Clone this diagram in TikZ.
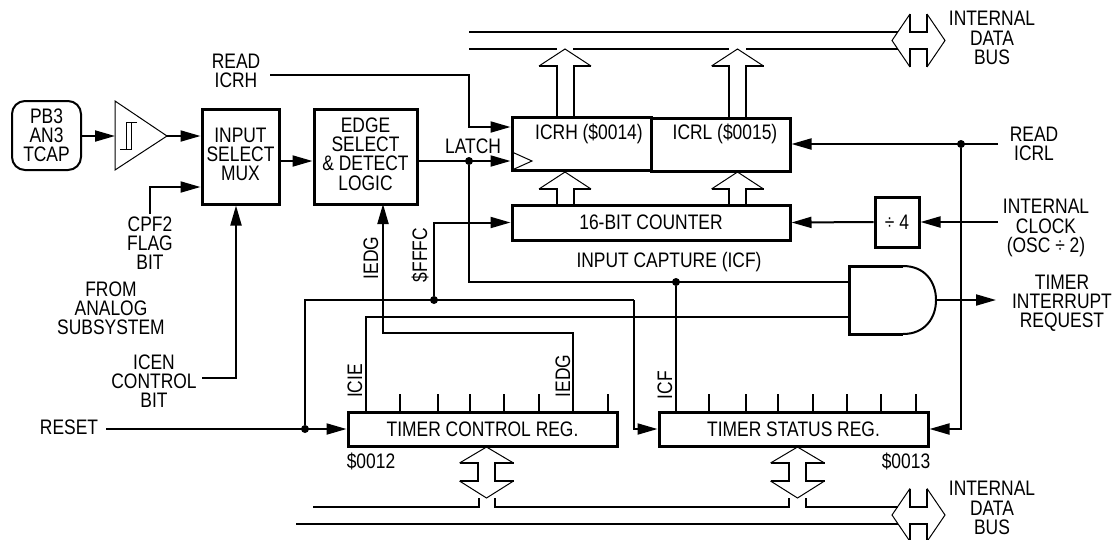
\documentclass[tikz,border=0pt]{standalone}
\usepackage{fontspec}
\setmainfont[FakeStretch=0.83]{Liberation Sans}
\usepackage{tikz}
\usetikzlibrary{arrows.meta,positioning,calc}

\begin{document}
\begin{tikzpicture}[
  x=1pt, y=-1pt,
  wire/.style={line width=2pt},
  arrow/.style={wire, -{Triangle[length=20pt,width=11pt]}},
  thin line/.style={line width=1pt},
  lbl/.style={font=\fontsize{21}{19.2}\selectfont, align=center, inner sep=0pt},
  box/.style={draw, line width=3pt, inner sep=0pt, align=center, font=\fontsize{21}{19.2}\selectfont},
  dot/.style={circle, fill=black, inner sep=0pt, minimum size=8pt}
]
\useasboundingbox (0,0) rectangle (1115,539);

% blocks
\node[draw, wire, rounded corners=13pt, minimum width=69pt, minimum height=69pt, inner sep=0pt, lbl] (pin) at (46.5,135.5) {PB3\\AN3\\TCAP};
\node[box, minimum width=77pt, minimum height=95pt, text depth=5pt] (mux) at (240.5,156.5) {INPUT\\SELECT\\MUX};
\node[box, minimum width=103pt, minimum height=95pt, text depth=5pt] (edge) at (365.5,156.5) {EDGE\\SELECT\\\&~DETECT\\LOGIC};
\node[box, minimum width=139pt, minimum height=53pt] (icrh) at (581.5,143.5) {};
\node[box, minimum width=139pt, minimum height=53pt] (icrl) at (720.5,144.5) {};
\node[box, minimum width=278pt, minimum height=35pt] (counter) at (651,222.5) {16-BIT COUNTER};
\node[box, minimum width=44pt, minimum height=50pt] (div) at (897,222) {÷ 4};
\node[box, minimum width=269pt, minimum height=34pt] (tcr) at (482.5,429) {TIMER CONTROL REG.};
\node[box, minimum width=269pt, minimum height=34pt] (tsr) at (793.5,429) {TIMER STATUS REG.};
\node[lbl] (icrhtxt) at (589,134) {ICRH (\$0014)};
\node[lbl] (icrltxt) at (725,134) {ICRL (\$0015)};

% schmitt input buffer
\coordinate (bufin) at (115,136);
\coordinate (bufout) at (167,136);
\draw[thin line] (bufin |- 0,101) -- (bufin |- 0,170) -- (bufout) -- cycle;
\draw[thin line] (137,122) -- (126,122) -- (126,149);
\draw[thin line] (120,149) -- (131,149) -- (131,122);
\draw[thin line] (512,152) -- (532,161) -- (512,170);

% and gate
\coordinate (andin) at (849,282);
\coordinate (andlow) at (849,317);
\coordinate (andout) at (936,300);
\draw[line width=3pt] (903,266) -- (849,266) -- (849,334) -- (903,334);
\draw[wire] (903,266) .. controls (925,266) and (936,282) .. (andout) .. controls (936,318) and (925,334) .. (903,334);

% junctions
\node[dot] (latch) at (469,161) {};
\node[dot] (icfdot) at (676,282) {};
\node[dot] (rstdot) at (305,429) {};
\node[dot] (rstup) at (434,300) {};
\node[dot] (rdldot) at (961,144) {};

% labels
\node[lbl] (readh) at (236,71) {READ\\ICRH};
\node[lbl] (readl) at (1034,144) {READ\\ICRL};
\node[lbl] (clock) at (1046,228) {INTERNAL\\CLOCK\\(OSC ÷ 2)};
\node[lbl] (latchtxt) at (473,146) {LATCH};
\node[lbl] (cpf) at (150,243) {CPF2\\FLAG\\BIT};
\node[lbl] (analog) at (111,308) {FROM\\ANALOG\\SUBSYSTEM};
\node[lbl] (icen) at (154,381) {ICEN\\CONTROL\\BIT};
\node[lbl] (rst) at (69,427) {RESET};
\node[lbl] (capture) at (669,262) {INPUT CAPTURE (ICF)};
\node[lbl] (irq) at (1062,303) {TIMER\\INTERRUPT\\REQUEST};
\node[lbl] (busa) at (992,38) {INTERNAL\\DATA\\BUS};
\node[lbl] (busb) at (992,508) {INTERNAL\\DATA\\BUS};
\node[lbl] (addra) at (371,461) {\$0012};
\node[lbl] (addrb) at (906,461) {\$0013};
\node[lbl, rotate=90] (iedga) at (371,258) {IEDG};
\node[lbl, rotate=90] (fffc) at (420,255) {\$FFFC};
\node[lbl, rotate=90] (icie) at (355,381) {ICIE};
\node[lbl, rotate=90] (iedgb) at (563,376) {IEDG};
\node[lbl, rotate=90] (icf) at (665,385) {ICF};

% free ends
\coordinate (rdhend) at (270,75);
\coordinate (rdlend) at (998,144);
\coordinate (clkend) at (998,222);
\coordinate (cpfend) at (150,214);
\coordinate (icenend) at (202,378);
\coordinate (rstend) at (106,429);
\coordinate (irqend) at (996,300);

% signals
\draw[arrow] (pin.east |- bufin) -- (bufin);
\draw[arrow] (bufout) -- (bufout -| mux.west);
\draw[arrow] (cpfend) |- (mux.west |- 0,187);
\draw[arrow] (icenend) -| (mux.south -| 236,0);
\draw[arrow] (mux.east |- latch) -- (edge.west |- latch);
\draw[arrow] (edge.east |- latch) -- (icrh.west |- latch);
\draw[arrow] (rdhend) -| (469,127) -- (icrh.west |- 0,127);
\draw[arrow] (rdlend) -- (icrl.east |- rdlend);
\draw[arrow] (clkend) -- (div.east);
\draw[arrow] (div.west) -- (counter.east);
\draw[wire] (latch) |- (andin);
\draw[wire] (icfdot) -- (icfdot |- tsr.north);
\draw[wire] (366,412) |- (andlow);
\draw[arrow] (573,412) |- (383,333) -- (383,204);
\draw[wire] (rstdot) |- (634,300);
\draw[arrow] (634,300) |- (tsr.west);
\draw[arrow] (rstup) |- (counter.west);
\draw[arrow] (rstend) -- (tcr.west);
\draw[arrow] (rdldot) |- (tsr.east);
\draw[arrow] (andout) -- (irqend);

% register bit ticks
\foreach \x in {400,438,470,504,539,608,709,746,778,813,847,881,916} {
  \draw[wire] (\x,394) -- (\x,412);
}

% internal data bus lines
\draw[wire] (469,32) -- (898,32);
\draw[wire] (469,49) -- (557,49) (573,49) -- (729,49) (746,49) -- (898,49);
\draw[wire] (313,507) -- (479,507) -- (479,498) (495,498) -- (495,507) -- (789,507) -- (789,498);
\draw[wire] (806,498) -- (806,507) -- (898,507);
\draw[wire] (296,524) -- (898,524);

% bus arrows into the registers
\foreach \cx/\tipy/\bot in {565/49/117, 737.5/49/118, 565/172/205, 737.5/172/205} {
  \draw[wire] (\cx-8.5,\bot) -- (\cx-8.5,\tipy+17) -- (\cx-26,\tipy+17);
  \draw[thin line] (\cx-26,\tipy+17) -- (\cx,\tipy) -- (\cx+26,\tipy+17);
  \draw[wire] (\cx+26,\tipy+17) -- (\cx+8.5,\tipy+17) -- (\cx+8.5,\bot);
}

% bus arrows to the registers from the lower bus
\foreach \cx in {486.5,797.5} {
  \draw[wire] (\cx-27,463) -- (\cx-8.5,463) -- (\cx-8.5,481) -- (\cx-27,481);
  \draw[wire] (\cx+27,463) -- (\cx+8.5,463) -- (\cx+8.5,481) -- (\cx+27,481);
  \draw[thin line] (\cx-27,463) -- (\cx,447) -- (\cx+27,463);
  \draw[thin line] (\cx-27,481) -- (\cx,498) -- (\cx+27,481);
}

% bus arrows at the right side
\foreach \cy in {40.5,515} {
  \draw[thin line] (910,\cy-26.5) -- (892,\cy) -- (910,\cy+26.5);
  \draw[thin line] (927,\cy-26.5) -- (945,\cy) -- (927,\cy+26.5);
  \draw[wire] (910,\cy-26.5) -- (910,\cy-8.5) -- (927,\cy-8.5) -- (927,\cy-26.5);
  \draw[wire] (910,\cy+26.5) -- (910,\cy+8.5) -- (927,\cy+8.5) -- (927,\cy+26.5);
}
\end{tikzpicture}
\end{document}
